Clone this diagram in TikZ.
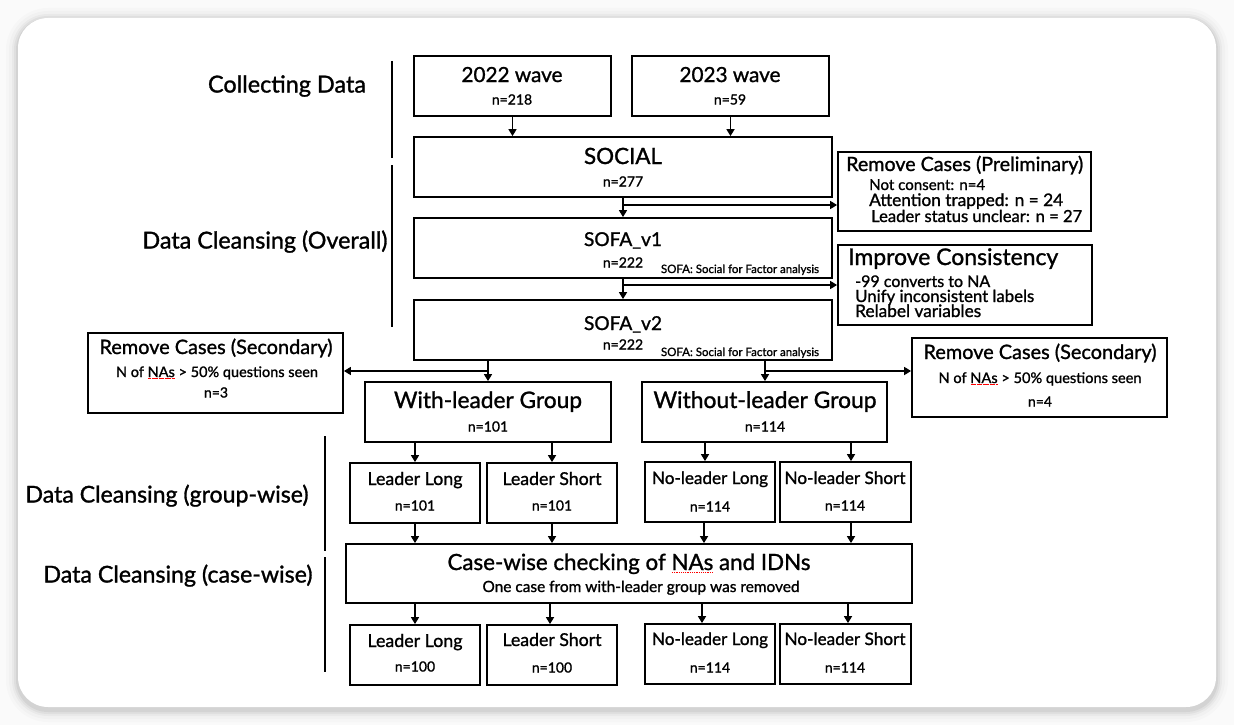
\documentclass[tikz,border=0pt]{standalone}
\usepackage{fontspec}
\setmainfont{Lato}[FakeBold=1.2]
\usetikzlibrary{arrows.meta,calc}
\tikzset{
  box/.style={draw, line width=1.8pt, inner sep=0pt},
  arr/.style={line width=1.6pt, -{Triangle[length=7pt,width=8pt]}},
  secline/.style={line width=1.6pt},
  txt/.style={inner sep=0pt, anchor=base, font=\fontsize{20}{24}\selectfont},
  bigtxt/.style={txt, yshift=-7.5pt},
  ttltxt/.style={txt, yshift=-7pt},
  midtxt/.style={txt, yshift=-6pt},
  smltxt/.style={txt, yshift=-5pt},
  numtxt/.style={txt, yshift=-4.5pt, font=\fontsize{14}{16}\selectfont},
  captxt/.style={txt, yshift=-3pt},
}
\newcommand\bx[5]{\node[box, minimum width={(#4)-(#2)}, minimum height={(#5)-(#3)}] (#1) at ({((#2)+(#4))/2},{((#3)+(#5))/2}) {};}
\newcommand\tx[6]{\node[#1] (#2) at (#3,#4) {\resizebox{#5pt}{!}{#6}};}
\newcommand\nn[4]{\node[numtxt] (#1) at (#2,#3) {#4};}
\newcommand\sq[1]{\setbox0\hbox{#1}\rlap{\color{red}\raisebox{-2.4pt}{\hbox to \wd0{\xleaders\hbox to 1.6pt{\hss\rule{0.8pt}{0.6pt}\hss}\hfill}}}\box0\relax}
\begin{document}
\begin{tikzpicture}[x=1pt,y=-1pt]
\useasboundingbox (0,0) rectangle (1234,725);
\fill[black!2] (0,0) rectangle (1234,725);
% card shadow
\foreach \s/\o in {12/0.015,9/0.02,6/0.03,4/0.04,2/0.05}
  \fill[black,opacity=\o,rounded corners={30pt+\s pt}] ({18-\s},{20-\s}) rectangle ({1216+\s},{710+\s});
\fill[white, rounded corners=30pt] (18,18) rectangle (1216,707);

% section labels and lines
\tx{bigtxt}{lcol}{287}{85}{158}{Collecting Data}
\tx{bigtxt}{lover}{265}{241}{245}{Data Cleansing (Overall)}
\tx{bigtxt}{lgrp}{167}{495}{283}{Data Cleansing (group-wise)}
\tx{bigtxt}{lcase}{178}{575}{269}{Data Cleansing (case-wise)}
\draw[secline] (392,61) coordinate (s1a) -- (392,158) coordinate (s1b);
\draw[secline] (392,165) coordinate (s2a) -- (392,327) coordinate (s2b);
\draw[secline] (325,436) coordinate (s3a) -- (325,551) coordinate (s3b);
\draw[secline] (325,557) coordinate (s4a) -- (325,672) coordinate (s4b);

% boxes
\bx{w22}{414}{56}{611}{116}
\bx{w23}{632}{56}{829}{116}
\bx{soc}{414}{137}{832}{197}
\bx{sofa1}{414}{218}{832}{278}
\bx{sofa2}{414}{300}{832}{360}
\bx{rcp}{838}{152}{1091}{231}
\bx{ic}{838}{245}{1092}{325}
\bx{rsl}{88}{333}{343}{413}
\bx{rsr}{912}{338}{1167}{417}
\bx{wl}{365}{382}{611}{442}
\bx{wol}{642}{382}{887}{442}
\bx{ll1}{350}{463}{480}{523}
\bx{ls1}{487}{463}{617}{523}
\bx{nll1}{645}{462}{775}{522}
\bx{nls1}{780}{462}{911}{522}
\bx{cw}{346}{544}{912}{603}
\bx{ll2}{350}{625}{480}{685}
\bx{ls2}{487}{625}{617}{685}
\bx{nll2}{645}{624}{775}{684}
\bx{nls2}{780}{624}{911}{684}

% texts
\tx{ttltxt}{t22}{512}{75}{101}{2022 wave}
\nn{n22}{512}{100}{n=218}
\tx{ttltxt}{t23}{730}{75}{101}{2023 wave}
\nn{n23}{730}{100}{n=59}
\tx{ttltxt}{tsoc}{623}{157}{78}{SOCIAL}
\nn{nsoc}{623}{182}{n=277}
\tx{ttltxt}{ts1}{623}{239}{78}{SOFA\_v1}
\nn{ns1}{623}{263}{n=222}
\tx{captxt}{cs1}{740}{270}{158}{SOFA: Social for Factor analysis}
\tx{ttltxt}{ts2}{623}{323}{78}{SOFA\_v2}
\nn{ns2}{623}{345}{n=222}
\tx{captxt}{cs2}{740}{353}{158}{SOFA: Social for Factor analysis}

\tx{midtxt,anchor=base west}{trcp}{846}{165}{237}{Remove Cases (Preliminary)}
\tx{smltxt,anchor=base west}{trcp1}{869}{185}{116}{Not consent: n=4}
\tx{smltxt,anchor=base west}{trcp2}{869}{201}{194}{Attention trapped: n = 24}
\tx{smltxt,anchor=base west}{trcp3}{871}{217}{211}{Leader status unclear: n = 27}

\tx{midtxt,anchor=base west}{tic}{848}{259}{210}{Improve Consistency}
\tx{smltxt,anchor=base west}{tic1}{855}{282}{135}{-99 converts to NA}
\tx{smltxt,anchor=base west}{tic2}{855}{297}{179}{Unify inconsistent labels}
\tx{smltxt,anchor=base west}{tic3}{855}{312}{126}{Relabel variables}

\tx{midtxt}{trsl}{216}{348}{233}{Remove Cases (Secondary)}
\tx{smltxt}{trsl1}{217}{372}{202}{N of \sq{NAs} > 50\% questions seen}
\nn{nrsl}{216}{393}{n=3}
\tx{midtxt}{trsr}{1040}{353}{233}{Remove Cases (Secondary)}
\tx{smltxt}{trsr1}{1040}{378}{203}{N of \sq{NAs} > 50\% questions seen}
\nn{nrsr}{1040}{402}{n=4}

\tx{ttltxt}{twl}{488}{401}{188}{With-leader Group}
\nn{nwl}{488}{427}{n=101}
\tx{ttltxt}{twol}{765}{401}{223}{Without-leader Group}
\nn{nwol}{765}{427}{n=114}

\tx{smltxt}{tll1}{415}{480}{95}{Leader Long}
\nn{nll1t}{415}{506}{n=101}
\tx{smltxt}{tls1}{552}{480}{99}{Leader Short}
\nn{nls1t}{552}{506}{n=101}
\tx{smltxt}{tnll1}{710}{479}{116}{No-leader Long}
\nn{nnll1}{710}{507}{n=114}
\tx{smltxt}{tnls1}{845}{479}{121}{No-leader Short}
\nn{nnls1}{845}{506}{n=114}

\tx{ttltxt}{tcw}{629}{563}{363}{Case-wise checking of \sq{NAs} and IDNs}
\tx{smltxt}{tcw1}{641}{587}{317}{One case from with-leader group was removed}

\tx{smltxt}{tll2}{415}{642}{95}{Leader Long}
\nn{nll2t}{415}{667}{n=100}
\tx{smltxt}{tls2}{552}{641}{99}{Leader Short}
\nn{nls2t}{552}{668}{n=100}
\tx{smltxt}{tnll2}{710}{640}{116}{No-leader Long}
\nn{nnll2}{710}{668}{n=114}
\tx{smltxt}{tnls2}{845}{640}{121}{No-leader Short}
\nn{nnls2}{845}{668}{n=114}

% connectors
\draw[arr] (w22.south) -- (w22.south |- soc.north);
\draw[arr] (w23.south) -- (w23.south |- soc.north);
\draw[arr] (soc.south) -- (sofa1.north);
\coordinate (j1) at (623,205);
\draw[arr] (j1) -- (j1 -| rcp.west);
\draw[arr] (sofa1.south) -- (sofa2.north);
\coordinate (j2) at (623,285);
\draw[arr] (j2) -- (j2 -| ic.west);
\coordinate (j3) at (488,371);
\coordinate (j4) at (765,371);
\draw[arr] (sofa2.south -| j3) -- (wl.north -| j3);
\draw[arr] (j3) -- (j3 -| rsl.east);
\draw[arr] (sofa2.south -| j4) -- (wol.north -| j4);
\draw[arr] (j4) -- (j4 -| rsr.west);

\draw[arr] (wl.south -| ll1.north) -- (ll1.north);
\draw[arr] (wl.south -| ls1.north) -- (ls1.north);
\draw[arr] (wol.south -| 705,0) -- (nll1.north -| 705,0);
\draw[arr] (wol.south -| 851,0) -- (nls1.north -| 851,0);

\draw[arr] (ll1.south) -- (cw.north -| ll1.south);
\draw[arr] (ls1.south) -- (cw.north -| ls1.south);
\draw[arr] (nll1.south -| 704,0) -- (cw.north -| 704,0);
\draw[arr] (nls1.south -| 851,0) -- (cw.north -| 851,0);

\draw[arr] (cw.south -| ll2.north) -- (ll2.north);
\draw[arr] (cw.south -| 550,0) -- (ls2.north -| 550,0);
\draw[arr] (cw.south -| 702,0) -- (nll2.north -| 702,0);
\draw[arr] (cw.south -| 848,0) -- (nls2.north -| 848,0);
\end{tikzpicture}
\end{document}
